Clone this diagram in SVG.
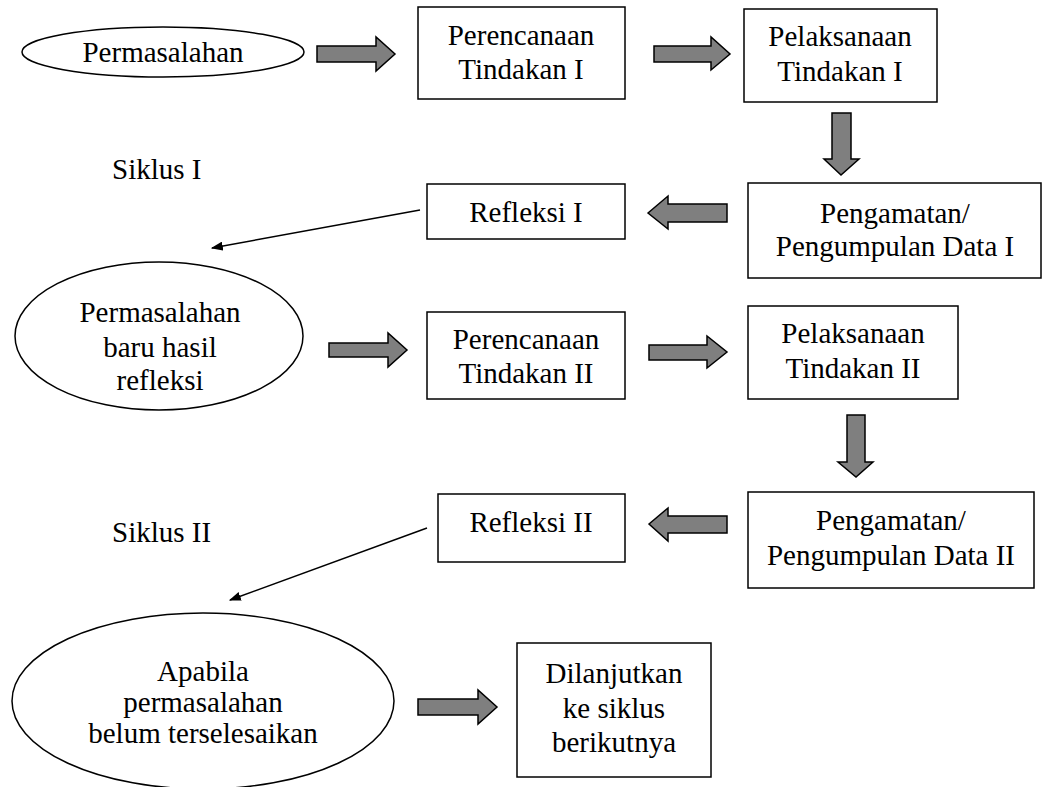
<svg xmlns="http://www.w3.org/2000/svg" width="1042" height="787" viewBox="0 0 1042 787">
<style>
  .shape { fill: #ffffff; stroke: #000000; stroke-width: 1.5; }
  .blk { fill: #7f7f7f; stroke: #000000; stroke-width: 1.5; stroke-linejoin: miter; }
  .line { fill: none; stroke: #000000; stroke-width: 1.5; }
  .t { font-family: "Times New Roman", "Liberation Serif", Tinos, "Noto Serif", "DejaVu Serif", serif; font-size: 29px; fill: #000000; text-anchor: middle; }
  .lbl { font-family: "Times New Roman", "Liberation Serif", Tinos, "Noto Serif", "DejaVu Serif", serif; font-size: 29px; fill: #000000; text-anchor: start; }
</style>
<defs>
  <marker id="ah2" viewBox="0 0 10 10" refX="9" refY="5" markerWidth="12" markerHeight="9" markerUnits="userSpaceOnUse" orient="auto" preserveAspectRatio="none">
    <path d="M0,0 L10,5 L0,10 z" fill="#000000"/>
  </marker>
</defs>

<g id="connectors">
  <polygon class="blk" points="317,46 376,46 376,37 395,54 376,71 376,62 317,62"/>
  <polygon class="blk" points="654,46 711,46 711,37 730,54 711,70 711,62 654,62"/>
  <polygon class="blk" points="832,113 851,113 851,159 859,159 841,175 824,159 832,159"/>
  <polygon class="blk" points="648,213 668,196 668,204 727,204 727,222 668,222 668,229"/>
  <line class="line" x1="420" y1="210" x2="212" y2="248" marker-end="url(#ah2)"/>
  <polygon class="blk" points="329,343 388,343 388,333 407,350 388,367 388,357 329,357"/>
  <polygon class="blk" points="649,345 707,345 707,336 727,352 707,368 707,360 649,360"/>
  <polygon class="blk" points="847,415 865,415 865,462 873,462 856,477 838,462 847,462"/>
  <polygon class="blk" points="649,524 668,508 668,516 727,516 727,533 668,533 668,541"/>
  <line class="line" x1="427" y1="528" x2="230" y2="600" marker-end="url(#ah2)"/>
  <polygon class="blk" points="418,699 478,699 478,690 497,707 478,724 478,715 418,715"/>
</g>

<g id="permasalahan">
  <ellipse class="shape" cx="163" cy="52" rx="141" ry="25"/>
  <text class="t" x="163" y="62">Permasalahan</text>
</g>

<g id="perencanaan1">
  <rect class="shape" x="418" y="7" width="207" height="92"/>
  <text class="t" x="521" y="45">Perencanaan</text>
  <text class="t" x="521" y="79">Tindakan I</text>
</g>

<g id="pelaksanaan1">
  <rect class="shape" x="744" y="9" width="193" height="93"/>
  <text class="t" x="840" y="46">Pelaksanaan</text>
  <text class="t" x="840" y="81">Tindakan I</text>
</g>

<g id="pengamatan1">
  <rect class="shape" x="748" y="183" width="293" height="95"/>
  <text class="t" x="895" y="223">Pengamatan/</text>
  <text class="t" x="895" y="256">Pengumpulan Data I</text>
</g>

<g id="refleksi1">
  <rect class="shape" x="427" y="184" width="198" height="55"/>
  <text class="t" x="526" y="222">Refleksi I</text>
</g>

<g id="siklus1">
  <text class="lbl" x="112" y="179">Siklus I</text>
</g>

<g id="permasalahan-baru">
  <ellipse class="shape" cx="159" cy="336" rx="144" ry="74"/>
  <text class="t" x="160" y="322">Permasalahan</text>
  <text class="t" x="160" y="357">baru hasil</text>
  <text class="t" x="160" y="390">refleksi</text>
</g>

<g id="perencanaan2">
  <rect class="shape" x="427" y="312" width="198" height="87"/>
  <text class="t" x="526" y="349">Perencanaan</text>
  <text class="t" x="526" y="383">Tindakan II</text>
</g>

<g id="pelaksanaan2">
  <rect class="shape" x="748" y="306" width="210" height="93"/>
  <text class="t" x="853" y="343">Pelaksanaan</text>
  <text class="t" x="853" y="378">Tindakan II</text>
</g>

<g id="pengamatan2">
  <rect class="shape" x="748" y="492" width="286" height="96"/>
  <text class="t" x="891" y="530">Pengamatan/</text>
  <text class="t" x="891" y="565">Pengumpulan Data II</text>
</g>

<g id="refleksi2">
  <rect class="shape" x="438" y="494" width="187" height="68"/>
  <text class="t" x="531" y="532">Refleksi II</text>
</g>

<g id="siklus2">
  <text class="lbl" x="112" y="542">Siklus II</text>
</g>

<g id="apabila">
  <ellipse class="shape" cx="203" cy="701" rx="191" ry="88"/>
  <text class="t" x="203" y="681">Apabila</text>
  <text class="t" x="203" y="712">permasalahan</text>
  <text class="t" x="203" y="743">belum terselesaikan</text>
</g>

<g id="dilanjutkan">
  <rect class="shape" x="517" y="643" width="194" height="134"/>
  <text class="t" x="614" y="683">Dilanjutkan</text>
  <text class="t" x="614" y="718">ke siklus</text>
  <text class="t" x="614" y="752">berikutnya</text>
</g>
</svg>
